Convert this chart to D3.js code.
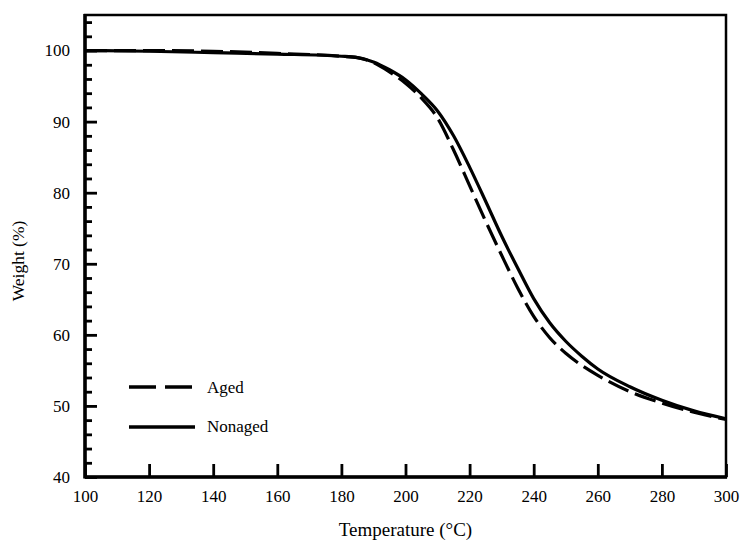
<!DOCTYPE html>
<html>
<head>
<meta charset="utf-8">
<script src="https://cdn.jsdelivr.net/npm/d3@7"></script>
<style>
  body { margin: 0; background: #fff; }
  svg text { font-family: "Liberation Serif", "Times New Roman", serif; fill: #000; }
</style>
</head>
<body>
<div id="chart"></div>
<script>
// Temperature grid (°C)
var temps = [100, 120, 140, 160, 180, 185, 190, 195, 200, 205, 210, 215, 220, 225, 230, 235, 240, 245, 250, 255, 260, 270, 280, 290, 300];

// Weight (%)
var nonaged = [100, 99.9, 99.7, 99.5, 99.2, 99.0, 98.4, 97.3, 95.9, 93.9, 91.5, 88.0, 83.6, 78.8, 73.9, 69.4, 65.1, 61.7, 59.1, 57.0, 55.2, 52.7, 50.8, 49.3, 48.2];
var aged    = [100, 100.0, 99.9, 99.6, 99.2, 99.0, 98.3, 97.0, 95.4, 93.3, 90.5, 86.0, 81.0, 76.0, 71.2, 66.6, 62.6, 59.6, 57.4, 55.7, 54.3, 52.0, 50.4, 49.1, 48.1];

var xTicks = [100, 120, 140, 160, 180, 200, 220, 240, 260, 280, 300];
var yTicks = [40, 50, 60, 70, 80, 90, 100];
var yMinor = d3.range(42, 105, 2).filter(function(v) { return v % 10 !== 0; });

var width = 741, height = 541;
var margin = {left: 85, right: 15, top: 15, bottom: 64};

var svg = d3.select("#chart").append("svg")
    .attr("width", width)
    .attr("height", height);

var x = d3.scaleLinear().domain([100, 300]).range([margin.left, width - margin.right]);
var y = d3.scaleLinear().domain([40, 105]).range([height - margin.bottom, margin.top]);

// frame
svg.append("rect")
   .attr("x", x(100)).attr("y", y(105))
   .attr("width", x(300) - x(100)).attr("height", y(40) - y(105))
   .attr("fill", "none").attr("stroke", "#000").attr("stroke-width", 2.5);

// minor y ticks
svg.append("g")
   .attr("transform", "translate(" + x(100) + ",0)")
   .call(d3.axisLeft(y).tickValues(yMinor).tickSizeInner(-7).tickSizeOuter(0).tickFormat(""))
   .call(g => g.select(".domain").remove())
   .selectAll("line").attr("stroke-width", 2.8);

// y axis
var yAxis = svg.append("g")
   .attr("transform", "translate(" + x(100) + ",0)")
   .call(d3.axisLeft(y).tickValues(yTicks).tickSizeInner(-12).tickSizeOuter(0).tickPadding(15));
yAxis.select(".domain").remove();
yAxis.selectAll("line").attr("stroke-width", 2.8);
yAxis.selectAll("text").attr("font-size", 17).attr("font-family", "Liberation Serif");

// x axis
var xAxis = svg.append("g")
   .attr("transform", "translate(0," + y(40) + ")")
   .call(d3.axisBottom(x).tickValues(xTicks).tickSizeInner(-13).tickSizeOuter(0).tickPadding(13));
xAxis.select(".domain").remove();
xAxis.selectAll("line").attr("stroke-width", 2.8);
xAxis.selectAll("text").attr("font-size", 17).attr("font-family", "Liberation Serif");

// heavier left and bottom axis lines
svg.append("line")
   .attr("x1", x(100)).attr("x2", x(100)).attr("y1", y(105) - 1).attr("y2", y(40) + 1.5)
   .attr("stroke", "#000").attr("stroke-width", 3.5);
svg.append("line")
   .attr("x1", x(100)).attr("x2", x(300) + 1).attr("y1", y(40)).attr("y2", y(40))
   .attr("stroke", "#000").attr("stroke-width", 3.5);

// axis titles
svg.append("text")
   .attr("x", x(200)).attr("y", 536)
   .attr("text-anchor", "middle").attr("font-size", 19)
   .text("Temperature (°C)");

svg.append("text")
   .attr("transform", "translate(24,261) rotate(-90)")
   .attr("text-anchor", "middle").attr("font-size", 17.5)
   .text("Weight (%)");

// curves
var line = d3.line()
    .x(function(d, i) { return x(temps[i]); })
    .y(function(d) { return y(d); })
    .curve(d3.curveMonotoneX);

svg.append("path")
   .datum(nonaged)
   .attr("d", line)
   .attr("fill", "none").attr("stroke", "#000").attr("stroke-width", 3.2);

svg.append("path")
   .datum(aged)
   .attr("d", line)
   .attr("fill", "none").attr("stroke", "#000").attr("stroke-width", 3.2)
   .attr("stroke-dasharray", "22,7");

// legend
var legend = svg.append("g");
legend.append("line")
   .attr("x1", 129).attr("x2", 195).attr("y1", 387).attr("y2", 387)
   .attr("stroke", "#000").attr("stroke-width", 3.5).attr("stroke-dasharray", "27,9");
legend.append("text").attr("x", 207).attr("y", 393).attr("font-size", 17).text("Aged");
legend.append("line")
   .attr("x1", 129).attr("x2", 195).attr("y1", 427).attr("y2", 427)
   .attr("stroke", "#000").attr("stroke-width", 3.5);
legend.append("text").attr("x", 207).attr("y", 432).attr("font-size", 17).text("Nonaged");
</script>
</body>
</html>
